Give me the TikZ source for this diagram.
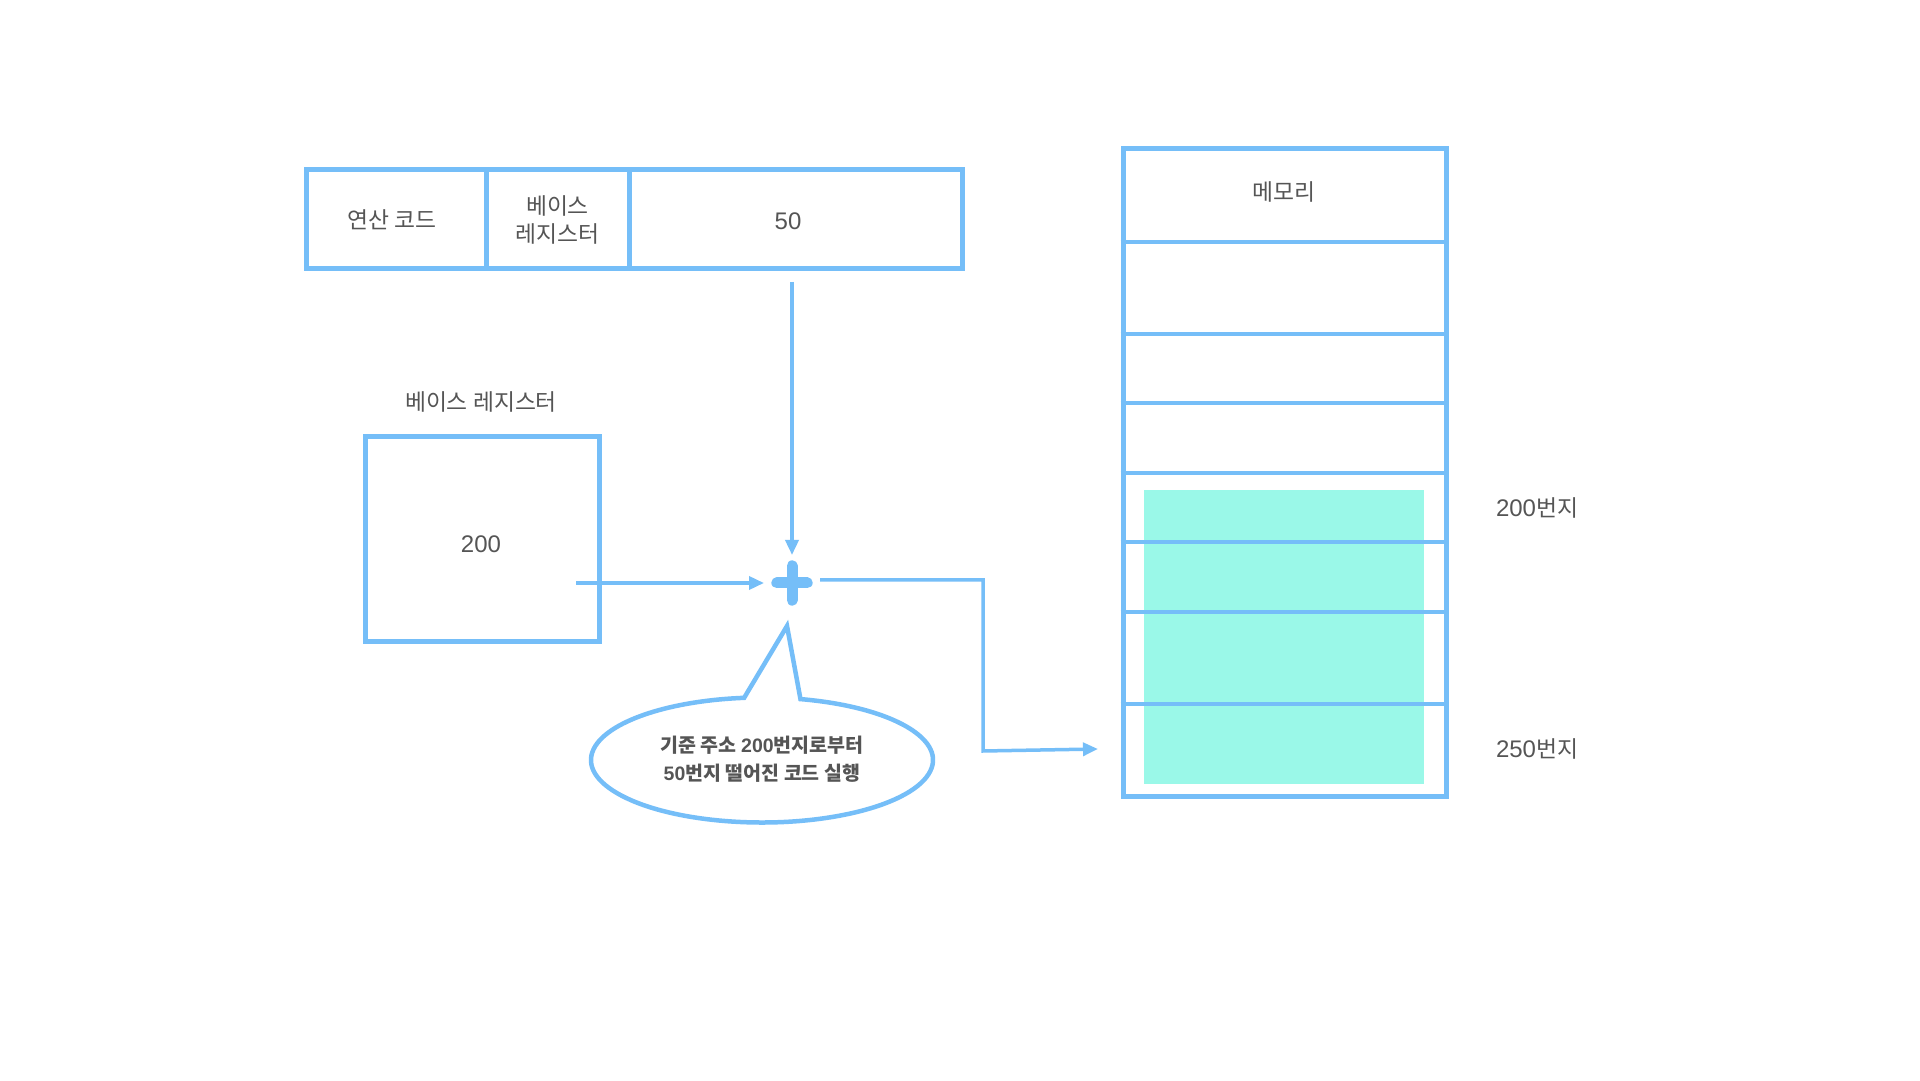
\documentclass[tikz,border=0pt]{standalone}
\usepackage{fontspec}
\setmainfont{Noto Sans CJK KR}
\newfontfamily\numfont{Liberation Sans}
\newcommand{\nm}[1]{{\numfont\fontsize{24}{28}\selectfont #1}}
\newcommand{\nmb}[1]{{\numfont\bfseries #1}}
\usetikzlibrary{arrows.meta,calc}
\definecolor{lblue}{HTML}{75BEF8}
\definecolor{mint}{HTML}{9AF8E8}
\definecolor{txt}{HTML}{555555}
\begin{document}
\begin{tikzpicture}[x=1pt,y=1pt,
  every node/.style={text=txt,font=\fontsize{22.8}{28}\selectfont},
  cell/.style={draw=lblue,line width=5pt,rectangle,inner sep=0pt,align=center},
  memline/.style={draw=lblue,line width=3.5pt},
  conn/.style={draw=lblue,line width=3.5pt,-{Triangle[length=15pt,width=13pt]}}]
\useasboundingbox[fill=white] (0,0) rectangle (1920,1080);
% instruction format
\node[cell,minimum width=180pt,minimum height=99pt] (op) at (396,860.5) {};
\node (optext) at (392,860.5) {연산 코드};
\node[cell,minimum width=143pt,minimum height=99pt] (br) at (557.5,860.5) {베이스\\레지스터};
\node[cell,minimum width=333pt,minimum height=99pt] (disp) at (795.5,860.5) {};
\node (disptext) at (788,859) {\nm{50}};
% base register
\node (brlabel) at (481,678) {베이스 레지스터};
\node[cell,minimum width=234pt,minimum height=205pt] (breg) at (482,540.5) {};
\node (bregval) at (481,536) {\nm{200}};
% plus
\node[minimum size=40pt,inner sep=0pt] (plus) at (792,497) {};
\draw[lblue,line width=11pt,line cap=round] ($(plus.west)+(5,0)$) -- ($(plus.east)+(-5,0)$);
\draw[lblue,line width=11pt,line cap=round] ($(plus.north)+(0,-3)$) -- ($(plus.south)+(0,3)$);
% connectors
\coordinate (dstart) at (792,798);
\coordinate (dend) at (792,525);
\draw[conn] (dstart) -- (dend);
\coordinate (hstart) at (576,497);
\coordinate (hend) at (764,497);
\draw[conn] (hstart) -- (hend);
\coordinate (ostart) at (820,500);
\coordinate (obend1) at (983,500);
\coordinate (obend2) at (983,329);
\coordinate (oend) at (1098,331);
\draw[conn] (ostart) -- (obend1) -- (obend2) -- (oend);
% speech bubble
\coordinate (bc) at (762,320);
\coordinate (tip) at (787,454);
\draw[lblue,line width=4.5pt,fill=white,line join=miter]
  (tip) -- ($(bc)+(77:171 and 62.5)$) arc[start angle=77,end angle=-264,x radius=171,y radius=62.5] -- cycle;
\node[font=\bfseries\fontsize{19.5}{28}\selectfont,align=center] (bubtext) at (762,321) {기준 주소 \nmb{200}번지로부터\\\nmb{50}번지 떨어진 코드 실행};
% memory
\fill[mint] (1144,590) rectangle (1424,296);
\node[cell,minimum width=323pt,minimum height=648pt] (mem) at (1284.5,607) {};
\node (memlabel) at (1284,888) {메모리};
\foreach \yy in {838,746,677,607,538,468,376}{
  \draw[memline] (mem.west |- 0,\yy) -- (mem.east |- 0,\yy);
}
\node (a200) at (1537,572) {\nm{200}번지};
\node (a250) at (1537,331) {\nm{250}번지};
\end{tikzpicture}
\end{document}
